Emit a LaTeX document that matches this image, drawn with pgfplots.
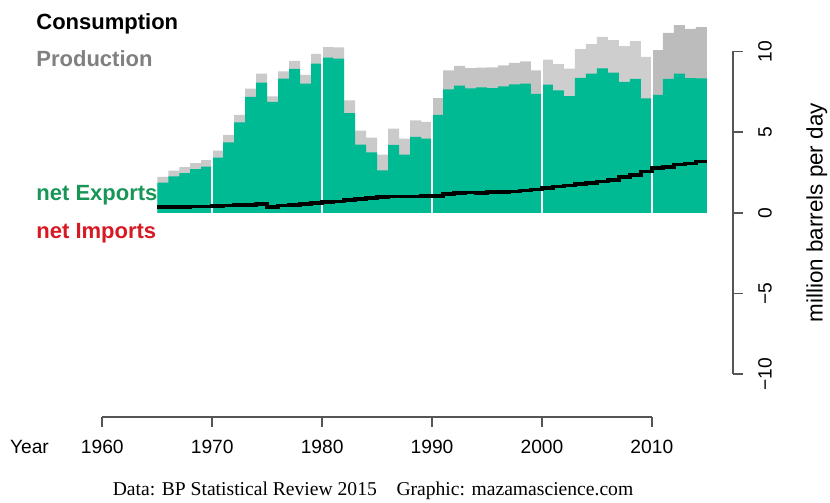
\documentclass[border=0pt]{standalone}
\usepackage{pgfplots}
\pgfplotsset{compat=1.18}
\usepackage{pgfplotstable}
\usepackage{fontspec}
\setmainfont{Liberation Sans}
\newfontfamily\capfont{Liberation Serif}
\definecolor{gfill}{RGB}{0,186,148}
\definecolor{gtext}{RGB}{24,150,88}
\definecolor{rtext}{RGB}{215,25,35}
\definecolor{ptext}{RGB}{128,128,128}
\definecolor{axc}{RGB}{85,85,85}
\definecolor{gA}{RGB}{202,202,202}
\definecolor{gB}{RGB}{196,196,196}
\definecolor{gC}{RGB}{206,206,206}
\definecolor{gD}{RGB}{188,188,188}

\pgfplotstableread{
year P N C
1965 2.219 1.87 0.35
1966 2.615 2.25 0.36
1967 2.825 2.45 0.37
1968 3.081 2.70 0.38
1969 3.262 2.86 0.40
1970 3.851 3.42 0.43
1971 4.821 4.37 0.45
1972 6.070 5.60 0.47
1973 7.693 7.19 0.50
1974 8.618 8.06 0.56
1975 7.216 6.87 0.35
1976 8.758 8.31 0.45
1977 9.419 8.92 0.50
1978 8.554 8.00 0.55
1979 9.841 9.24 0.60
1980 10.270 9.62 0.65
1981 10.256 9.56 0.70
1982 6.961 6.18 0.78
1983 5.086 4.23 0.86
1984 4.663 3.74 0.92
1985 3.601 2.63 0.97
1986 5.208 4.21 1.00
1987 4.599 3.60 1.00
1988 5.720 4.71 1.01
1989 5.635 4.60 1.03
1990 7.106 6.06 1.05
1991 8.820 7.64 1.18
1992 9.098 7.88 1.22
1993 8.962 7.71 1.25
1994 8.988 7.77 1.22
1995 9.014 7.73 1.28
1996 9.132 7.83 1.30
1997 9.289 7.96 1.33
1998 9.385 8.00 1.38
1999 8.819 7.37 1.45
2000 9.491 7.94 1.55
2001 9.209 7.59 1.62
2002 8.928 7.23 1.70
2003 10.141 8.36 1.78
2004 10.458 8.62 1.84
2005 10.900 8.95 1.95
2006 10.700 8.68 2.02
2007 10.330 8.12 2.21
2008 10.640 8.30 2.34
2009 9.663 7.09 2.57
2010 10.075 7.31 2.76
2011 11.144 8.30 2.84
2012 11.635 8.63 3.00
2013 11.393 8.34 3.05
2014 11.505 8.33 3.18
2015 11.505 8.33 3.18
}\data

\newcommand{\lblfont}{\fontsize{11.0}{13}\selectfont\bfseries}
\newcommand{\tickfont}{\fontsize{9.6}{11}\selectfont}

\begin{document}
\begin{tikzpicture}
\begin{axis}[
  scale only axis, width=313.2pt, height=193.6pt,
  xmin=1960, xmax=2017, ymin=-13, ymax=11,
  hide axis, clip=false,
]
% production (grey) by decade
\addplot[const plot, fill=gA, draw=none, restrict x to domain=1965:1970] table[x=year,y=P] {\data} \closedcycle;
\addplot[const plot, fill=gA, draw=none, restrict x to domain=1970:1980] table[x=year,y=P] {\data} \closedcycle;
\addplot[const plot, fill=gA, draw=none, restrict x to domain=1980:1990] table[x=year,y=P] {\data} \closedcycle;
\addplot[const plot, fill=gB, draw=none, restrict x to domain=1990:2000] table[x=year,y=P] {\data} \closedcycle;
\addplot[const plot, fill=gC, draw=none, restrict x to domain=2000:2010] table[x=year,y=P] {\data} \closedcycle;
\addplot[const plot, fill=gD, draw=none, restrict x to domain=2010:2015] table[x=year,y=P] {\data} \closedcycle;
% net exports (green)
\addplot[const plot, fill=gfill, draw=none] table[x=year,y=N] {\data} \closedcycle;
% white decade lines
\foreach \d in {1970,1980,1990,2000,2010}{
  \edef\tmp{\noexpand\draw[white, line width=1.2pt] (axis cs:\d,0) -- (axis cs:\d,12);}\tmp
}
% consumption
\addplot[const plot, black, line width=1.8pt] table[x=year,y=C] {\data};

% axes
\draw[axc, line width=0.9pt] (axis cs:1960,-12.666) -- (axis cs:2010,-12.666);
\foreach \t in {1960,1970,1980,1990,2000,2010}{
  \edef\tmp{\noexpand\draw[axc, line width=0.9pt] (axis cs:\t,-12.666) -- (axis cs:\t,-13.25);
  \noexpand\node[font=\noexpand\tickfont, anchor=base] at (axis cs:\t,-14.95) {\t};}\tmp
}
\draw[axc, line width=0.9pt] (axis cs:2017.36,-10) -- (axis cs:2017.36,10);
\foreach \v/\l in {-10/−10,-5/−5,0/0,5/5,10/10}{
  \edef\tmp{\noexpand\draw[axc, line width=0.9pt] (axis cs:2017.36,\v) -- (axis cs:2018.3,\v);
  \noexpand\node[font=\noexpand\tickfont, rotate=90, anchor=center] at (axis cs:2020.3,\v) {\l};}\tmp
}
\node[font=\tickfont, anchor=base west] at (axis cs:1950.96,-14.95) {Year};
\node[font=\fontsize{11.2}{13}\selectfont, rotate=90, anchor=center] at (axis cs:2025.0,0) {million barrels per day};

% legend labels
\node[font=\lblfont, anchor=base west, text=black] at (axis cs:1953.36,11.37) {Consumption};
\node[font=\lblfont, anchor=base west, text=ptext] at (axis cs:1953.36,9.05) {Production};
\node[font=\lblfont, anchor=base west, text=gtext] at (axis cs:1953.36,0.79) {net Exports};
\node[font=\lblfont, anchor=base west, text=rtext] at (axis cs:1953.36,-1.57) {net Imports};

% caption
\node[font=\capfont\fontsize{9.8}{11}\selectfont, anchor=base] at (axis cs:1984.63,-17.55) {Data: BP Statistical Review 2015\hspace{1.0em}Graphic: mazamascience.com};

\coordinate (imgBL) at (axis cs:1950.69,-17.936);
\coordinate (imgTR) at (axis cs:2026.21,13.187);
\end{axis}
\pgfresetboundingbox
\path[use as bounding box] (imgBL) rectangle (imgTR);
\end{tikzpicture}
\end{document}
